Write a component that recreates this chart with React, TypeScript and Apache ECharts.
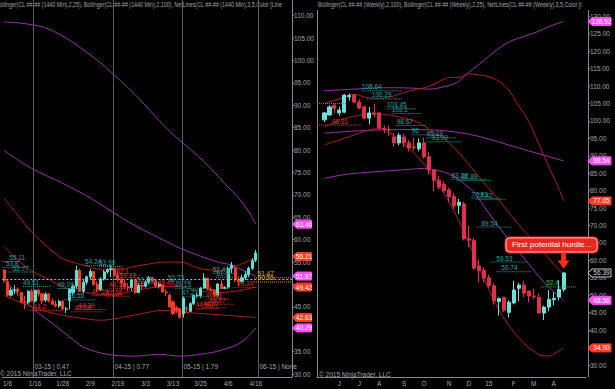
import React, { useEffect, useRef } from "react";
import * as echarts from "echarts";

const FONT = "'Liberation Sans Narrow','Arial Narrow','Liberation Sans',Arial,sans-serif";

// ---------------- LEFT PANEL (daily, 1440 Min) ----------------
const leftDates = [
  "1/5","1/6","1/7","1/8","1/9","1/12","1/13","1/14","1/15","1/16",
  "1/19","1/20","1/21","1/22","1/23","1/26","1/27","1/28","1/29","1/30",
  "2/2","2/3","2/4","2/5","2/6","2/9","2/10","2/11","2/12","2/13",
  "2/16","2/17","2/18","2/19","2/20","2/23","2/24","2/25","2/26","2/27",
  "3/2","3/3","3/4","3/5","3/6","3/9","3/10","3/11","3/12","3/13",
  "3/16","3/17","3/18","3/19","3/20","3/23","3/24","3/25","3/26","3/27",
  "3/30","3/31","4/1","4/2","4/3","4/6","4/7","4/8","4/9","4/10",
  "4/13","4/14","4/15","4/16",
  "4/17","4/20","4/21","4/22","4/23","4/24","4/27","4/28","4/29","4/30",
];
const leftOpen = [
  53.2,50.6,47.6,48.7,49.0,48.2,46.0,46.0,48.5,46.3,
  48.7,47.9,46.5,47.9,46.3,45.6,45.2,46.2,44.5,46.4,
  48.2,49.6,53.1,48.5,50.5,51.7,52.9,50.0,48.8,51.2,
  52.8,53.3,53.5,52.1,51.2,50.3,49.5,49.3,51.0,48.2,
  49.8,49.6,50.5,51.5,50.8,49.6,50.0,48.3,47.6,46.1,
  44.8,44.6,43.5,44.7,44.0,45.7,47.5,47.5,49.2,51.4,
  48.9,48.7,47.6,50.1,49.1,49.4,53.6,53.6,51.0,50.6,
  51.5,52.2,53.6,55.4,
];
const leftClose = [
  50.9,47.6,48.7,48.8,48.4,46.1,45.9,48.5,46.3,48.7,
  47.9,46.4,47.8,46.3,45.6,45.2,46.2,44.5,44.5,48.9,
  49.6,53.1,48.5,50.5,51.7,52.9,50.0,48.8,51.2,52.8,
  53.3,53.5,52.1,51.2,50.3,49.5,49.3,51.0,48.2,49.8,
  49.6,50.5,51.5,50.8,49.6,50.0,48.3,48.2,45.0,43.5,
  44.2,42.7,46.9,44.6,45.7,47.5,47.5,49.2,51.4,48.9,
  48.7,47.6,50.1,49.1,49.3,53.6,54.3,51.0,50.6,51.5,
  52.2,53.6,55.3,57.0,
];
const leftLow = [
  50.4,47.3,47.3,47.8,47.5,45.8,44.5,45.6,46.1,45.9,
  47.3,45.6,46.0,46.0,45.4,44.9,44.8,44.2,43.6,44.4,
  47.5,49.0,48.4,48.0,49.9,51.2,49.7,48.3,48.5,50.9,
  52.4,51.7,51.8,50.6,48.8,49.0,48.5,48.6,47.9,48.0,
  48.7,49.3,50.1,50.4,49.2,49.1,48.2,47.4,44.8,43.2,
  43.6,42.3,42.6,43.6,43.9,45.4,47.0,47.0,49.0,48.7,
  48.4,47.2,47.1,48.9,49.0,49.0,52.5,50.5,49.6,50.3,
  51.0,51.6,53.2,55.0,
];
const leftHigh = [
  53.4,51.0,49.3,49.8,49.3,48.3,47.5,48.7,49.0,48.8,
  49.0,48.0,48.3,48.0,46.9,46.4,46.6,46.5,45.0,49.2,
  50.0,54.2,53.5,51.2,52.0,53.5,52.9,50.7,51.6,53.2,
  53.6,54.2,53.6,52.9,51.7,51.0,50.3,51.3,51.2,50.3,
  50.5,50.9,51.9,51.7,51.1,50.5,50.1,48.9,47.9,46.4,
  45.2,44.8,47.3,45.2,46.0,47.7,48.0,49.4,52.5,51.5,
  49.4,49.0,50.3,50.9,49.6,54.0,55.0,54.3,51.8,52.2,
  53.0,54.0,55.8,57.7,
];
// Bollinger(2,100) and Bollinger(2,25): [bar index, value]
const leftBB100Upper = [[0,108.6],[4,108.4],[8,108.0],[12,107.3],[16,105.9],[20,104.0],[24,101.8],[28,99.5],[32,96.7],[36,93.9],[40,90.8],[44,87.4],[48,84.2],[52,81.5],[56,78.8],[60,75.9],[64,72.5],[68,69.3],[71,66.2],[73,63.46]];
const leftBB100Mid = [[0,79.9],[8,75.9],[17,72.6],[25,69.3],[31,66.4],[36,64.0],[40,62.3],[46,60.0],[51,58.1],[57,56.3],[62,55.0],[66,54.3],[70,52.9],[73,51.87]];
const leftBB100Lower = [[0,50.9],[5,47.2],[9,44.2],[14,41.3],[19,38.3],[23,36.0],[30,34.4],[38,34.0],[45,34.4],[51,34.0],[57,34.4],[63,35.3],[69,37.2],[73,40.29]];
const leftBB25Upper = [[0,69.2],[4,65.5],[8,61.7],[12,58.8],[16,56.2],[18,55.4],[24,54.1],[28,53.4],[34,53.5],[40,54.3],[47,55.0],[51,55.0],[57,53.5],[63,53.2],[68,54.3],[71,55.3],[73,56.21]];
const leftBB25Mid = [[0,58.4],[4,55.5],[8,53.0],[12,51.5],[18,49.2],[24,48.2],[28,47.7],[34,48.0],[40,48.9],[47,49.6],[51,49.5],[57,48.5],[63,48.2],[68,48.6],[73,49.42]];
const leftBB25Lower = [[0,47.6],[4,46.2],[8,45.0],[12,44.0],[17,43.1],[24,42.3],[28,42.0],[34,42.6],[40,43.5],[46,44.2],[51,43.9],[57,43.5],[63,43.2],[68,42.9],[73,42.63]];
// NetLines: [line start bar, line end bar, text bar, value, label, kind]
const leftNet: [number, number, number, number, string, string][] = [
  [0,4,2,55.11,"55.11","t"],[0,6,1,53.8,"53.8","t"],[1,8,3,52.77,"52.77","t"],
  [6,13,6,49.51,"49.51","t"],[16,23,16,49.09,"49.09","t"],[18,26,19,46.55,"46.55","t"],
  [24,31,24,54.24,"54.24","t"],[28,34,28,53.99,"53.99","t"],[39,45,39,50.23,"50.23","t"],
  [48,54,48,50.73,"50.73","t"],[50,56,50,49.15,"49.15","t"],[52,58,52,47.23,"47.23","t"],
  [61,67,61,52.49,"52.49","t"],[62,68,62,51.6,"51.6","t"],
  [8,16,9,44.2,"44.2","r"],[21,29,22,44.39,"44.39","r"],[20,28,21,43.88,"43.88","r"],
  [32,39,33,52.1,"52.1","r"],[33,39,34,51.13,"51.13","r"],[31,38,31,49.14,"49.14","r"],
  [26,33,26,47.59,"47.59","r"],[30,36,30,47.36,"47.36","r"],[45,50,45,49.45,"49.45","r"],
  [59,65,59,46.66,"46.66","r"],[59,66,60,45.57,"45.57","r"],[56,62,56,44.63,"44.63","r"],
  [58,64,58,44.82,"44.82","r"],[67,73,68,49.34,"49.34","r"],
  [73,83,74,51.47,"51.47","o"],[73,83,74,50.55,"50.55","o"],
];
const leftPriorLine = 51.1;
const leftRollBars = [9, 32, 52, 74];
const leftRollLabels = ["03-15 | 0.47", "04-15 | 0.77", "05-15 | 1.79", "06-15 | None"];
const leftTagValues = [63.46, 56.21, 51.87, 49.42, 42.63, 40.29];
const leftTagKinds = ["p", "r", "p", "r", "r", "p"];
const leftLabelBars = [1, 9, 17, 25, 33, 41, 49, 57, 65, 73];
const leftHiddenTicks = [40, 50];

// ---------------- RIGHT PANEL (weekly) ----------------
const rightWeeks = [
  "2014-05-05","2014-05-12","2014-05-19","2014-05-26","2014-06-02","2014-06-09","2014-06-16","2014-06-23","2014-06-30","2014-07-07",
  "2014-07-14","2014-07-21","2014-07-28","2014-08-04","2014-08-11","2014-08-18","2014-08-25","2014-09-01","2014-09-08","2014-09-15",
  "2014-09-22","2014-09-29","2014-10-06","2014-10-13","2014-10-20","2014-10-27","2014-11-03","2014-11-10","2014-11-17","2014-11-24",
  "2014-12-01","2014-12-08","2014-12-15","2014-12-22","2014-12-29","2015-01-05","2015-01-12","2015-01-19","2015-01-26","2015-02-02",
  "2015-02-09","2015-02-16","2015-02-23","2015-03-02","2015-03-09","2015-03-16","2015-03-23","2015-03-30","2015-04-06","2015-04-13",
  "2015-04-20","2015-04-27","2015-05-04","2015-05-11",
];
const rightTickIdx = [4, 8, 12, 17, 21, 26, 30, 34, 39, 43, 47];
const rightTickLabels = ["J", "J", "A", "S", "O", "N", "D", "15", "F", "M", "A"];
const rightHiddenTicks = [35];
// weekly bars idx 1..49: open, close, low, high
const rightOpen = [
  100.3,101.7,104.5,102.3,102.5,106.9,107.4,105.4,104.0,100.8,
  102.3,102.3,97.9,97.6,95.4,93.7,95.4,93.7,92.5,92.0,
  93.7,89.7,85.9,83.0,81.8,80.2,78.3,75.8,76.2,66.2,
  65.8,58.4,57.2,55.0,52.7,48.2,49.4,45.1,47.8,52.0,
  52.9,51.2,49.8,49.4,44.9,46.6,48.7,49.5,51.7,
];
const rightClose = [
  102.3,104.0,103.6,103.1,107.4,107.3,105.4,103.7,100.8,102.3,
  102.0,98.0,97.6,97.4,93.7,95.9,93.7,92.2,92.4,93.7,
  89.7,85.9,83.0,81.0,80.0,78.3,75.6,76.7,66.2,65.8,
  57.8,57.1,54.9,52.7,48.4,49.1,45.7,48.0,51.5,52.9,
  50.6,49.8,49.6,44.9,46.6,48.8,49.1,51.7,56.39,
];
const rightLow = [
  99.7,101.5,102.3,101.5,102.2,105.8,105.0,103.3,100.5,99.0,
  101.0,97.3,96.5,95.6,92.5,93.0,92.5,91.2,91.5,91.3,
  89.2,84.6,79.8,80.3,79.4,76.7,74.8,73.3,65.7,63.7,
  57.3,53.6,53.8,52.0,47.3,44.2,45.2,43.6,47.4,48.3,
  49.5,48.0,48.9,44.6,42.9,45.4,47.1,48.5,51.0,
];
const rightHigh = [
  102.5,104.5,104.9,104.0,107.7,107.9,107.7,106.2,104.4,104.0,
  104.9,102.6,98.7,98.7,96.5,96.5,96.3,94.5,95.2,95.0,
  95.2,91.0,86.2,84.2,82.8,80.9,79.3,77.6,76.9,69.9,
  66.5,60.1,58.0,56.0,53.4,49.3,49.6,48.6,54.2,53.6,
  54.2,51.3,51.9,50.5,47.0,51.5,50.9,54.3,56.7,
];
const rightBB100Upper = [[1,108.7],[4,108.9],[8,109.2],[12,109.5],[16,109.5],[20,109.3],[22,109.1],[25,109.8],[27,110.6],[28,111.4],[30,114.0],[33,117.3],[35,119.7],[38,122.6],[41,124.2],[44,125.7],[46,127.0],[49,128.52]];
const rightBB100Mid = [[1,96.5],[6,97.0],[12,97.4],[20,97.5],[25,97.2],[30,96.2],[34,94.8],[38,93.1],[42,91.4],[45,90.2],[49,88.54]];
const rightBB100Lower = [[1,83.5],[5,84.6],[11,85.4],[18,86.1],[21,86.4],[24,85.7],[26,84.8],[28,83.2],[30,80.8],[31,79.6],[34,73.5],[37,67.8],[40,62.5],[43,57.2],[45,53.8],[47,51.0],[49,48.56]];
const rightBB25Upper = [[1,105.1],[4,106.3],[6,107.4],[7,107.6],[9,106.9],[11,106.5],[13,106.6],[15,107.2],[18,108.6],[21,109.5],[23,110.5],[25,112.0],[27,112.5],[28,112.5],[30,113.5],[32,113.2],[34,112.7],[36,111.4],[38,108.8],[40,104.3],[42,99.9],[44,93.5],[46,87.0],[48,80.8],[49,77.05]];
const rightBB25Mid = [[1,98.2],[3,99.6],[5,100.7],[8,101.6],[11,102.0],[13,101.9],[16,101.1],[19,100.0],[21,98.6],[23,96.6],[25,95.0],[27,92.3],[29,89.2],[31,85.7],[33,82.2],[35,79.0],[37,75.6],[39,71.9],[41,68.6],[43,65.6],[45,62.4],[47,59.0],[49,55.98]];
const rightBB25Lower = [[1,93.1],[3,94.1],[6,95.5],[9,97.0],[12,97.9],[13,97.6],[15,95.7],[17,93.3],[19,90.7],[21,87.6],[23,83.6],[25,79.2],[27,74.2],[29,68.3],[31,61.5],[33,54.7],[35,48.7],[37,43.5],[39,39.4],[41,36.3],[43,34.0],[45,32.6],[46,32.6],[47,33.1],[49,34.9]];
const rightNet: [number, number, number, number, string, string][] = [
  [0,5,0,105.0,"","t"],[9,16,9,108.64,"108.64","t"],[10,16,11,106.29,"106.29","t"],
  [14,19,14,103.45,"103.45","t"],[15,20,15,102.1,"102.1","t"],[0,8,3,98.81,"98.81","r"],
  [16,21,16,98.67,"98.67","t"],[19,24,19,96.0,"96","t"],[22,27,22,95.19,"95.19","t"],
  [22,28,23,93.99,"93.99","t"],[27,33,27,83.28,"83.28","t"],[28,34,29,82.89,"82.89","t"],
  [31,36,31,77.83,"77.83","t"],[32,37,32,77.42,"77.42","t"],[32,38,33,69.54,"69.54","t"],
  [35,41,36,59.53,"59.53","t"],[36,42,37,56.74,"56.74","t"],[45,51,46,52.4,"52.4","g"],
];
const rightTagValues = [128.52, 88.54, 77.05, 56.39, 48.56, 34.90];
const rightTagKinds = ["p", "p", "r", "k", "p", "r"];
const calloutText = "First potential hurdle...";
const calloutPoint = [49, 57.7];

const TITLE_L = "Bollinger(CL ##-## (1440 Min),2,25), Bollinger(CL ##-## (1440 Min),2,100), NetLines(CL ##-## (1440 Min),3,5,Color [Line";
const TITLE_R = "Bollinger(CL ##-## (Weekly),2,100), Bollinger(CL ##-## (Weekly),2,25), NetLines(CL ##-## (Weekly),3,5,Color [I";
const COPY = "\u00a9 2015 NinjaTrader, LLC";

const PURPLE = "#9b2fae";
const DKRED = "#b01c1c";
const NETC: Record<string, string> = { t: "#1fa5a5", r: "#e52a1a", o: "#e8a010", g: "#22c422" };
const TAGC: Record<string, string> = { p: "#ff4dff", r: "#ff3b24", k: "#000000" };
const AXC = "#a6a6a6";
const TSCALE = 0.82;

function lineSeries(data: number[][], color: string, gi: number) {
  return {
    type: "line", xAxisIndex: gi, yAxisIndex: gi, data, smooth: 0.35, showSymbol: false,
    symbol: "none", lineStyle: { color, width: 1 }, z: 3, silent: true,
  };
}

function netSeries(items: [number, number, number, number, string, string][], gi: number) {
  return {
    type: "custom", xAxisIndex: gi, yAxisIndex: gi, clip: false, z: 6, silent: true,
    data: items.map((n) => [n[0], n[1], n[2], n[3]]),
    encode: { x: [0, 1, 2], y: 3 },
    renderItem: (params: any, api: any) => {
      const n = items[params.dataIndex];
      const v = api.value(3);
      const bw = api.size([1, 0])[0];
      const a = api.coord([api.value(0), v]);
      const b = api.coord([api.value(1), v]);
      const t = api.coord([api.value(2), v]);
      const color = NETC[n[5]];
      return {
        type: "group",
        children: [
          { type: "line", shape: { x1: a[0] - bw / 2, y1: a[1], x2: b[0] + bw / 2, y2: b[1] }, style: { stroke: color, lineWidth: 1, lineDash: [1, 1] } },
          { type: "text", x: t[0] - bw / 2, y: a[1] - 0.5, style: { text: n[4], fill: color, font: `6.5px ${FONT}`, align: "left", verticalAlign: "bottom" } },
        ],
      };
    },
  };
}

function tagSeries(values: number[], kinds: string[], gi: number, xoff: number, w: number) {
  return {
    type: "custom", xAxisIndex: gi, yAxisIndex: gi, clip: false, z: 20, silent: true,
    data: values.map((v) => [0, v]),
    encode: { x: 0, y: 1 },
    renderItem: (params: any, api: any) => {
      const cs = params.coordSys;
      const y = api.coord([0, api.value(1)])[1];
      const x0 = cs.x + cs.width + xoff;
      const k = kinds[params.dataIndex];
      const fill = TAGC[k];
      return {
        type: "group",
        children: [
          { type: "polygon", shape: { points: [[x0, y], [x0 + 4, y - 4], [x0 + w, y - 4], [x0 + w, y + 4], [x0 + 4, y + 4]] }, style: { fill, stroke: k === "k" ? "#c8c8c8" : fill, lineWidth: 1 } },
          { type: "text", x: x0 + 4 + (w - 4) / 2, y, style: { text: values[params.dataIndex].toFixed(2), fill: k === "k" ? "#d8d8d8" : "#ffffff", font: `6.5px ${FONT}`, align: "center", verticalAlign: "middle" } },
        ],
      };
    },
  };
}

export default function App() {
  const ref = useRef<HTMLDivElement>(null);
  useEffect(() => {
    if (!ref.current) return;
    const chart = echarts.init(ref.current, null, { renderer: "svg" });
    const leftCandles = leftOpen.map((o, i) => [i, o, leftClose[i], leftLow[i], leftHigh[i]]);
    const rightCandles = rightOpen.map((o, i) => [i + 1, o, rightClose[i], rightLow[i], rightHigh[i]]);
    const axisLabelStyle = { color: AXC, fontSize: 6.5, fontFamily: FONT };

    const option: any = {
      animation: false,
      backgroundColor: "#000000",
      grid: [
        { left: 0, top: 15.7, width: 292, height: 358.3 },
        { left: 317, top: 16.3, width: 269, height: 348.7 },
      ],
      xAxis: [
        {
          type: "category", gridIndex: 0, data: leftDates, boundaryGap: true, offset: 3,
          axisLine: { lineStyle: { color: "#8a8a8a" } },
          axisTick: { interval: (i: number) => leftLabelBars.includes(i), length: 2, lineStyle: { color: "#8a8a8a" } },
          axisLabel: { ...axisLabelStyle, interval: (i: number) => leftLabelBars.includes(i), margin: 3 },
          splitLine: { show: false },
        },
        {
          type: "category", gridIndex: 1, data: rightWeeks, boundaryGap: true, offset: 12,
          axisLine: { lineStyle: { color: "#8a8a8a" } },
          axisTick: { interval: (i: number) => rightTickIdx.includes(i), length: 2, lineStyle: { color: "#8a8a8a" } },
          axisLabel: {
            ...axisLabelStyle, margin: 3,
            interval: (i: number) => rightTickIdx.includes(i),
            formatter: (_v: string, i: number) => rightTickLabels[rightTickIdx.indexOf(i)] ?? "",
          },
          splitLine: { show: false },
        },
      ],
      yAxis: [
        {
          type: "value", gridIndex: 0, position: "right", min: 30, max: 110, interval: 5,
          axisLine: { show: true, lineStyle: { color: "#8a8a8a" } },
          axisTick: { show: true, length: 2, lineStyle: { color: "#8a8a8a" } },
          axisLabel: { ...axisLabelStyle, margin: 2, formatter: (v: number) => (leftHiddenTicks.includes(v) ? "" : v.toFixed(2)) },
          splitLine: { show: false },
        },
        {
          type: "value", gridIndex: 1, position: "right", min: 30, max: 130, interval: 5, offset: 2,
          axisLine: { show: true, lineStyle: { color: "#8a8a8a" } },
          axisTick: { show: true, length: 2, lineStyle: { color: "#8a8a8a" } },
          axisLabel: { ...axisLabelStyle, margin: 2, formatter: (v: number) => (rightHiddenTicks.includes(v) ? "" : v.toFixed(2)) },
          splitLine: { show: false },
        },
      ],
      graphic: [
        { type: "line", shape: { x1: 317.5, y1: 10, x2: 317.5, y2: 377 }, style: { stroke: "#8a8a8a", lineWidth: 1 }, silent: true },
        { type: "line", shape: { x1: 292.5, y1: 0, x2: 292.5, y2: 377 }, style: { stroke: "#8a8a8a", lineWidth: 1 }, silent: true },
        { type: "line", shape: { x1: 588.5, y1: 10, x2: 588.5, y2: 377 }, style: { stroke: "#8a8a8a", lineWidth: 1 }, silent: true },
        { type: "text", x: -4, y: 5, scaleX: TSCALE, style: { text: TITLE_L, fill: AXC, font: `6.5px ${FONT}`, verticalAlign: "middle", width: 296 / TSCALE, overflow: "truncate", ellipsis: "" }, silent: true },
        { type: "text", x: 318, y: 5, scaleX: TSCALE, style: { text: TITLE_R, fill: AXC, font: `6.5px ${FONT}`, verticalAlign: "middle", width: 272 / TSCALE, overflow: "truncate", ellipsis: "" }, silent: true },
        { type: "text", x: 0, y: 373, style: { text: COPY, fill: AXC, font: `6.5px ${FONT}`, verticalAlign: "middle" }, silent: true },
        { type: "text", x: 319, y: 374, style: { text: COPY, fill: AXC, font: `6.5px ${FONT}`, verticalAlign: "middle" }, silent: true },
      ],
      series: [
        {
          type: "custom", xAxisIndex: 0, yAxisIndex: 0, clip: false, z: 1, silent: true,
          data: leftRollBars.map((b) => [b, 30]), encode: { x: 0, y: 1 },
          renderItem: (params: any, api: any) => {
            const cs = params.coordSys;
            const bw = api.size([1, 0])[0];
            const x = Math.round(api.coord([api.value(0), 30])[0] - bw / 2) + 0.5;
            return {
              type: "group",
              children: [
                { type: "line", shape: { x1: x, y1: 0, x2: x, y2: cs.y + cs.height + 3 }, style: { stroke: "#5c5c5c", lineWidth: 1 } },
                { type: "text", x: x + 1, y: cs.y + cs.height - 8, style: { text: leftRollLabels[params.dataIndex], fill: AXC, font: `6.5px ${FONT}`, verticalAlign: "middle" } },
              ],
            };
          },
        },
        {
          type: "candlestick", xAxisIndex: 0, yAxisIndex: 0, data: leftCandles, encode: { x: 0, y: [1, 2, 3, 4] },
          barWidth: 2.6, z: 4,
          itemStyle: { color: "#5fe0d4", color0: "#ff3a22", borderColor: "#5fe0d4", borderColor0: "#ff3a22", borderWidth: 1 },
          markLine: {
            silent: true, symbol: "none", label: { show: false },
            lineStyle: { color: "#c2d400", type: [2, 2], width: 1 },
            data: [{ yAxis: leftPriorLine }],
          },
        },
        lineSeries(leftBB100Upper, PURPLE, 0),
        lineSeries(leftBB100Mid, PURPLE, 0),
        lineSeries(leftBB100Lower, PURPLE, 0),
        lineSeries(leftBB25Upper, DKRED, 0),
        lineSeries(leftBB25Mid, DKRED, 0),
        lineSeries(leftBB25Lower, DKRED, 0),
        netSeries(leftNet, 0),
        tagSeries(leftTagValues, leftTagKinds, 0, 0.5, 19),
        {
          type: "candlestick", xAxisIndex: 1, yAxisIndex: 1, data: rightCandles, encode: { x: 0, y: [1, 2, 3, 4] },
          barWidth: 3.6, z: 4,
          itemStyle: { color: "#6ee0d8", color0: "#e0304c", borderColor: "#6ee0d8", borderColor0: "#e0304c", borderWidth: 1 },
        },
        lineSeries(rightBB100Upper, PURPLE, 1),
        lineSeries(rightBB100Mid, PURPLE, 1),
        lineSeries(rightBB100Lower, PURPLE, 1),
        lineSeries(rightBB25Upper, DKRED, 1),
        lineSeries(rightBB25Mid, DKRED, 1),
        lineSeries(rightBB25Lower, DKRED, 1),
        netSeries(rightNet, 1),
        tagSeries(rightTagValues, rightTagKinds, 1, 2, 23),
        {
          type: "custom", xAxisIndex: 1, yAxisIndex: 1, clip: false, z: 30, silent: true,
          data: [calloutPoint], encode: { x: 0, y: 1 },
          renderItem: (_p: any, api: any) => {
            const p = api.coord([api.value(0), api.value(1)]);
            const x = p[0], y = p[1];
            return {
              type: "group",
              children: [
                { type: "rect", shape: { x: x - 2.5, y: y - 16, width: 5, height: 9 }, style: { fill: "#ff2a14" } },
                { type: "polygon", shape: { points: [[x - 6, y - 8], [x + 6, y - 8], [x, y]] }, style: { fill: "#ff2a14" } },
                { type: "rect", shape: { x: x - 59, y: y - 32, width: 94, height: 17, r: 5 }, style: { fill: "#e8281c" } },
                { type: "rect", shape: { x: x - 57.5, y: y - 30.5, width: 91, height: 14, r: 4 }, style: { fill: "#e8281c", stroke: "#ffe4e0", lineWidth: 0.8 } },
                { type: "text", x: x - 12, y: y - 23.5, style: { text: calloutText, fill: "#ffffff", font: `8px ${FONT}`, align: "center", verticalAlign: "middle" } },
              ],
            };
          },
        },
      ],
    };
    chart.setOption(option);
    return () => chart.dispose();
  }, []);
  return <div ref={ref} style={{ width: 615, height: 389, position: "fixed", left: 0, top: 0, background: "#000" }} />;
}
